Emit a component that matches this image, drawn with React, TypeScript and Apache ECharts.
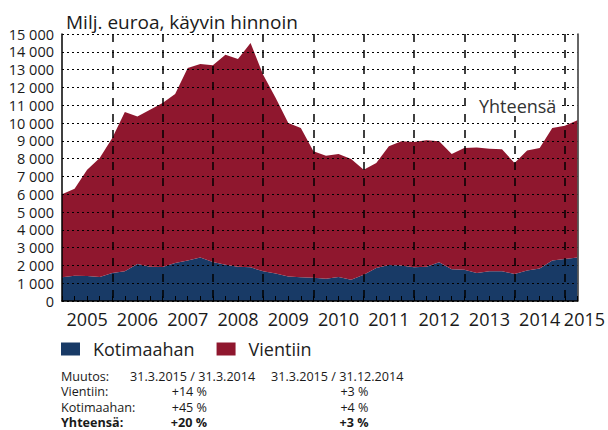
import React, { useEffect, useRef } from 'react';
import * as echarts from 'echarts';

const FONT = '"Open Sans", "Noto Sans", "DejaVu Sans", sans-serif';
const BLUE = '#183a66';
const RED = '#8f172e';

// Quarter-end points, 31.12.2004 ... 31.3.2015
const categories = [
  '2004Q4',
  '2005Q1', '2005Q2', '2005Q3', '2005Q4',
  '2006Q1', '2006Q2', '2006Q3', '2006Q4',
  '2007Q1', '2007Q2', '2007Q3', '2007Q4',
  '2008Q1', '2008Q2', '2008Q3', '2008Q4',
  '2009Q1', '2009Q2', '2009Q3', '2009Q4',
  '2010Q1', '2010Q2', '2010Q3', '2010Q4',
  '2011Q1', '2011Q2', '2011Q3', '2011Q4',
  '2012Q1', '2012Q2', '2012Q3', '2012Q4',
  '2013Q1', '2013Q2', '2013Q3', '2013Q4',
  '2014Q1', '2014Q2', '2014Q3', '2014Q4',
  '2015Q1',
];

// Milj. euroa
const kotimaahan = [
  1330, 1420, 1400, 1350, 1570, 1670, 2080, 1930, 1910, 2130, 2270, 2450, 2190, 2040,
  1930, 1890, 1670, 1540, 1370, 1330, 1310, 1250, 1350, 1200, 1480, 1850, 2020, 1990,
  1890, 1930, 2170, 1780, 1760, 1570, 1670, 1670, 1520, 1720, 1820, 2280, 2360, 2450,
];

const vientiin = [
  4670, 4890, 5980, 6680, 7590, 8950, 8290, 8820, 9210, 9500, 10820, 10860, 11050, 11800,
  11670, 12600, 11040, 9860, 8630, 8390, 7100, 6910, 6910, 6780, 5900, 5900, 6670, 6980,
  7040, 7100, 6800, 6480, 6840, 7060, 6890, 6850, 6230, 6730, 6780, 7440, 7490, 7700,
];

const yearLabels = ['2005', '2006', '2007', '2008', '2009', '2010', '2011', '2012', '2013', '2014', '2015'];

const yTickLabels = [
  '0', '1 000', '2 000', '3 000', '4 000', '5 000', '6 000', '7 000', '8 000',
  '9 000', '10 000', '11 000', '12 000', '13 000', '14 000', '15 000',
];

const titleText = 'Milj. euroa, käyvin hinnoin';
const totalLabel = 'Yhteensä';

const changeHeader = ['Muutos:', '31.3.2015 / 31.3.2014', '31.3.2015 / 31.12.2014'];
const changeRows = ['Vientiin:', 'Kotimaahan:', 'Yhteensä:'];
const changeYoY = ['+14 %', '+45 %', '+20 %'];
const changeQoQ = ['+3 %', '+4 %', '+3 %'];

function txt(x: number, y: number, text: string, size: number, opts: any = {}) {
  return {
    type: 'text',
    x,
    y,
    z: 10,
    style: {
      text,
      fill: opts.fill || '#1a1a1a',
      fontSize: size,
      fontFamily: FONT,
      fontWeight: opts.bold ? 'bold' : 'normal',
      textAlign: opts.align || 'left',
      align: opts.align || 'left',
      textVerticalAlign: 'middle',
      verticalAlign: 'middle',
      lineHeight: opts.lineHeight,
      backgroundColor: opts.bg,
      padding: opts.padding,
    },
  };
}

export default function App() {
  const ref = useRef<HTMLDivElement>(null);

  useEffect(() => {
    const chart = echarts.init(ref.current!, null, { renderer: 'svg' });

    const graphics: any[] = [];
    graphics.push(txt(66, 22, titleText, 19));
    graphics.push(txt(466, 106, totalLabel, 18, { fill: '#333', bg: '#fff', padding: [1, 4, 1, 13] }));

    const fs = 12.6;
    const lh = 14;
    const rowY = [391.5, 407.5, 422.5];
    graphics.push(txt(61, 376.5, changeHeader[0], fs, { lineHeight: lh }));
    graphics.push(txt(130, 376.5, changeHeader[1], fs, { lineHeight: lh }));
    graphics.push(txt(271, 376.5, changeHeader[2], fs, { lineHeight: lh }));
    changeRows.forEach((r, i) => {
      const bold = i === 2;
      graphics.push(txt(61, rowY[i], r, fs, { bold, lineHeight: lh }));
      graphics.push(txt(207, rowY[i], changeYoY[i], fs, { bold, align: 'right', lineHeight: lh }));
      graphics.push(txt(368.5, rowY[i], changeQoQ[i], fs, { bold, align: 'right', lineHeight: lh }));
    });

    chart.setOption({
      animation: false,
      backgroundColor: '#fff',
      textStyle: { fontFamily: FONT },
      grid: { left: 62, right: 29, top: 34, bottom: 129, containLabel: false },
      legend: {
        left: 61,
        top: 340,
        padding: 0,
        itemWidth: 19,
        itemHeight: 13,
        itemGap: 22,
        icon: 'rect',
        data: ['Kotimaahan', 'Vientiin'],
        textStyle: { fontSize: 18, color: '#222', fontFamily: FONT, padding: [0, 0, 0, 8] },
      },
      xAxis: {
        type: 'category',
        data: categories,
        boundaryGap: false,
        z: 5,
        axisLine: { show: true, lineStyle: { color: '#000', width: 1.5 } },
        axisTick: { show: true, inside: true, length: 5, interval: 0, lineStyle: { color: '#000', width: 1 } },
        axisLabel: {
          interval: (i: number) => i % 4 === 2 || i === categories.length - 1,
          formatter: (_v: string, i: number) => {
            if (i === categories.length - 1) return '{e|' + yearLabels[yearLabels.length - 1] + '}';
            return yearLabels[(i - 2) / 4];
          },
          fontSize: 18,
          fontFamily: FONT,
          color: '#1a1a1a',
          margin: 9,
          rich: {
            e: { fontSize: 18, fontFamily: FONT, color: '#1a1a1a', padding: [0, 0, 0, 14] },
          },
        },
        splitLine: {
          show: true,
          interval: (i: number) => i % 4 === 0 && i > 0 && i < categories.length - 1,
          lineStyle: { color: '#000', type: [8, 8], width: 1.5 },
        },
      },
      yAxis: [
        {
          type: 'value',
          min: 0,
          max: 15000,
          interval: 1000,
          z: 5,
          axisLine: { show: true, lineStyle: { color: '#000', width: 1.5 } },
          axisTick: { show: false },
          axisLabel: {
            formatter: (v: number) => yTickLabels[Math.round(v / 1000)],
            fontSize: 14.5,
            fontFamily: FONT,
            color: '#1a1a1a',
            margin: 8,
          },
          splitLine: { show: true, lineStyle: { color: '#000', type: [2, 3], width: 1 } },
        },
        {
          type: 'value',
          position: 'right',
          min: 0,
          max: 15000,
          interval: 1000,
          z: 5,
          axisLine: { show: true, lineStyle: { color: '#333', width: 1.5 } },
          axisTick: { show: false },
          axisLabel: { show: false },
          splitLine: { show: false },
        },
      ],
      series: [
        {
          name: 'Kotimaahan',
          type: 'line',
          stack: 'total',
          data: kotimaahan,
          symbol: 'none',
          lineStyle: { width: 0 },
          itemStyle: { color: BLUE },
          areaStyle: { color: BLUE, opacity: 1 },
        },
        {
          name: 'Vientiin',
          type: 'line',
          stack: 'total',
          data: vientiin,
          symbol: 'none',
          lineStyle: { width: 0 },
          itemStyle: { color: RED },
          areaStyle: { color: RED, opacity: 1 },
        },
      ],
      graphic: graphics,
    });

    return () => chart.dispose();
  }, []);

  return (
    <div
      ref={ref}
      style={{ position: 'fixed', left: 0, top: 0, width: 608, height: 430, background: '#fff' }}
    />
  );
}
